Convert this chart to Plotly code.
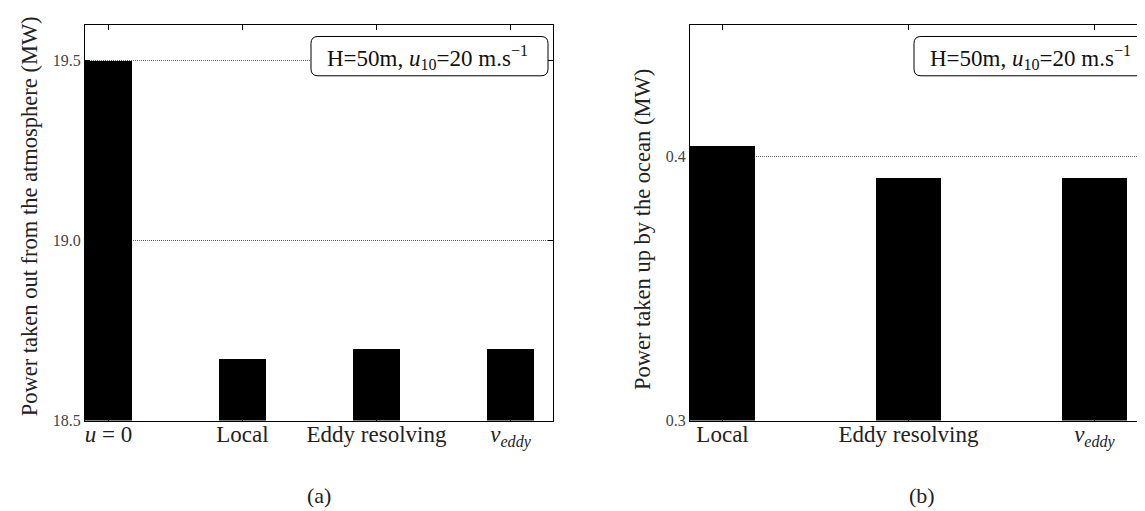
import plotly.graph_objects as go

# ---- data ----
cats_a = ["<i>u</i> = 0", "Local", "Eddy resolving", "<i>ν</i><sub><i>eddy</i></sub>"]
power_atm = [19.5, 18.672, 18.70, 18.70]
cats_b = ["Local", "Eddy resolving", "<i>ν</i><sub><i>eddy</i></sub>"]
power_ocean = [0.404, 0.392, 0.392]
yticks_a = [18.5, 19.0, 19.5]
yticks_b = [0.3, 0.4]

W, H = 1145, 511
FONT = "Liberation Serif"

def px(x):
    return x / W

def py(y):
    return 1 - y / H

fig = go.Figure()
fig.add_trace(go.Bar(x=list(range(len(cats_a))), y=power_atm, width=0.35,
                     marker=dict(color="black", line=dict(width=0)),
                     xaxis="x", yaxis="y", showlegend=False))
fig.add_trace(go.Bar(x=list(range(len(cats_b))), y=power_ocean, width=0.35,
                     marker=dict(color="black", line=dict(width=0)),
                     xaxis="x2", yaxis="y2", showlegend=False))

ydom = [py(420), py(17)]
common_x = dict(showline=True, linecolor="black", linewidth=1, mirror="ticks",
                ticks="inside", ticklen=5, tickcolor="black", showgrid=False,
                zeroline=False, ticklabelstandoff=-7,
                tickfont=dict(family=FONT, size=23, color="#222"))
common_y = dict(showline=True, linecolor="black", linewidth=1,
                ticks="inside", ticklen=5, tickcolor="black", showgrid=True,
                gridcolor="#666", griddash="1px,1px", gridwidth=1, zeroline=False,
                tickfont=dict(family=FONT, size=16, color="#444"), ticklabelstandoff=0)

fig.update_layout(
    width=W, height=H, margin=dict(l=0, r=0, t=0, b=0),
    plot_bgcolor="white", paper_bgcolor="white", bargap=0,
    xaxis=dict(domain=[px(77), px(545)], range=[-0.175, 3.317],
               tickvals=list(range(len(cats_a))), ticktext=cats_a, anchor="y", **common_x),
    yaxis=dict(domain=ydom, range=[18.5, 19.6], tickvals=yticks_a,
               ticktext=[f"{v:.1f}" for v in yticks_a], anchor="x", mirror="ticks", **common_y),
    xaxis2=dict(domain=[px(682), 1.0], range=[-0.175, 2.315],
                tickvals=list(range(len(cats_b))), ticktext=cats_b, anchor="y2", **common_x),
    yaxis2=dict(domain=ydom, range=[0.3, 0.45], tickvals=yticks_b,
                ticktext=[f"{v:.1f}" for v in yticks_b], anchor="x2", mirror=False, **common_y),
)

def rounded_box(x0, y0, x1, y1, r=7):
    X = lambda v: f"{px(v):.5f}"
    Y = lambda v: f"{py(v):.5f}"
    return (f"M {X(x0+r)},{Y(y0)} L {X(x1-r)},{Y(y0)} Q {X(x1)},{Y(y0)} {X(x1)},{Y(y0+r)} "
            f"L {X(x1)},{Y(y1-r)} Q {X(x1)},{Y(y1)} {X(x1-r)},{Y(y1)} "
            f"L {X(x0+r)},{Y(y1)} Q {X(x0)},{Y(y1)} {X(x0)},{Y(y1-r)} "
            f"L {X(x0)},{Y(y0+r)} Q {X(x0)},{Y(y0)} {X(x0+r)},{Y(y0)} Z")

box_text = "H=50m, <i>u</i><sub>10</sub>=20 m.s<sup>−1</sup>"
for (x0, x1) in [(303, 540), (906, 1143)]:
    fig.add_shape(type="path", xref="paper", yref="paper", path=rounded_box(x0, 29, x1, 69),
                  line=dict(color="black", width=1), fillcolor="white", layer="above")
    fig.add_annotation(xref="paper", yref="paper", showarrow=False, text=box_text,
                       x=px((x0 + x1) / 2 - 2), y=py(50), xanchor="center", yanchor="middle",
                       font=dict(family=FONT, size=23, color="#111"))

fig.add_annotation(xref="paper", yref="paper", x=px(21), y=py(212), showarrow=False,
                   xanchor="center", yanchor="middle",
                   text="Power taken out from the atmosphere (MW)", textangle=-90,
                   font=dict(family=FONT, size=22.5, color="#222"))
fig.add_annotation(xref="paper", yref="paper", x=px(634), y=py(226), showarrow=False,
                   xanchor="center", yanchor="middle",
                   text="Power taken up by the ocean (MW)", textangle=-90,
                   font=dict(family=FONT, size=22.5, color="#222"))
fig.add_annotation(xref="paper", yref="paper", x=px(311), y=py(496), showarrow=False,
                   xanchor="center", yanchor="middle",
                   text="(a)", font=dict(family=FONT, size=22, color="#222"))
fig.add_annotation(xref="paper", yref="paper", x=px(914), y=py(496), showarrow=False,
                   xanchor="center", yanchor="middle",
                   text="(b)", font=dict(family=FONT, size=22, color="#222"))

fig.write_html("out.html")
